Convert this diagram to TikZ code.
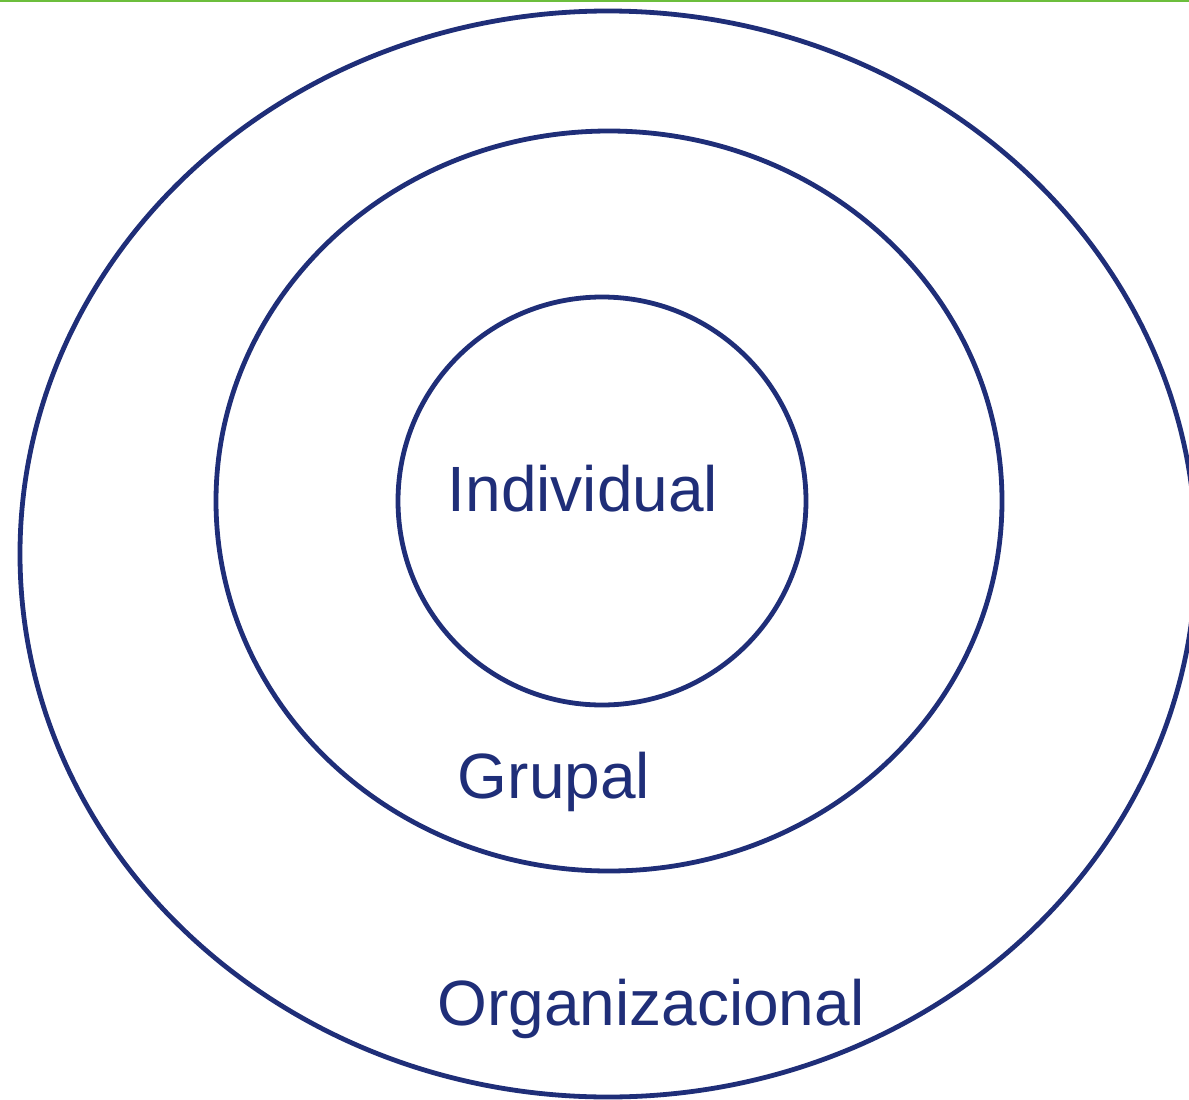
\documentclass[tikz,border=0pt]{standalone}
\usepackage{fontspec}
\setmainfont{Liberation Sans}
\definecolor{navy}{RGB}{31,46,120}
\definecolor{topgreen}{RGB}{108,190,60}
\begin{document}
\begin{tikzpicture}[x=1pt,y=-1pt,
  ring/.style={draw=navy,line width=4.8pt},
  lbl/.style={text=navy,font=\fontsize{64}{77}\selectfont,anchor=base,inner sep=0pt}]
\useasboundingbox (0,0) rectangle (1189,1100);
\begin{scope}
\clip (0,0) rectangle (1189,1100);
\draw[ring] (608,554) ellipse [x radius=588, y radius=543];
\end{scope}
\draw[ring] (609,501) ellipse [x radius=393, y radius=370];
\draw[ring] (602,501) ellipse [x radius=204, y radius=204];
\draw[topgreen,line width=1.5pt] (0,0.75) -- (1189,0.75);
\node[lbl] (ind) at (583,511) {Individual};
\node[lbl] (gru) at (554,798) {Grupal};
\node[lbl] (org) at (651,1025) {Organizacional};
\end{tikzpicture}
\end{document}
